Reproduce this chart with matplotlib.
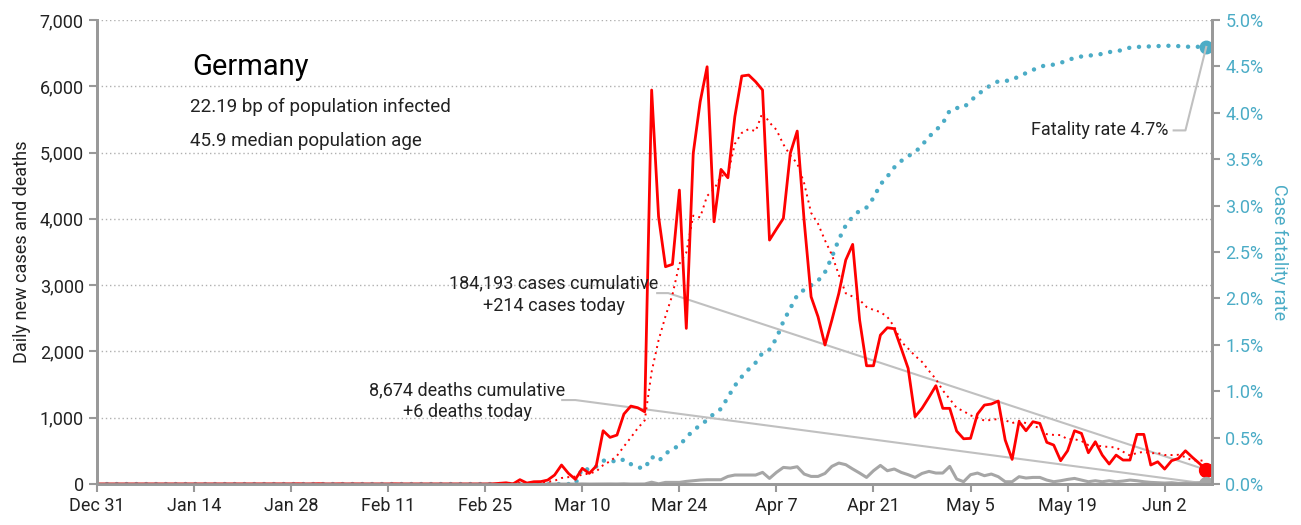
import numpy as np
import pandas as pd
import matplotlib
matplotlib.use('Agg')
import matplotlib.pyplot as plt
from matplotlib.ticker import FuncFormatter, MultipleLocator

plt.rcParams['font.family'] = ['Liberation Sans Narrow', 'Roboto', 'DejaVu Sans']

# dates shown on the chart
first_day = '2019-12-31'
last_day = '2020-06-08'

# daily new cases, from Jan 27 to Jun 8
cases_start = '2020-01-27'
new_cases = [
    0, 1, 3, 0, 1, 4, 0,                       # Jan 27 - Feb 2
    0, 2, 0, 1, 0, 0, 0,                       # Feb 3 - 9
    0, 0, 2, 0, 0, 0, 0,                       # Feb 10 - 16
    0, 0, 0, 0, 0, 0, 0,                       # Feb 17 - 23
    0, 0, 2, 10, 19, 2, 66,                    # Feb 24 - Mar 1
    15, 35, 37, 60, 136, 287, 161,             # Mar 2 - 8
    71, 237, 161, 271, 804, 704, 739,          # Mar 9 - 15
    1056, 1176, 1151, 1090, 5943, 4032, 3278,  # Mar 16 - 22
    3314, 4434, 2348, 4988, 5766, 6294, 3956,  # Mar 23 - 29
    4746, 4620, 5540, 6154, 6169, 6068, 5943,  # Mar 30 - Apr 5
    3680, 3846, 4007, 4988, 5324, 3969, 2825,  # Apr 6 - 12
    2524, 2097, 2474, 2876, 3379, 3615, 2474,  # Apr 13 - 19
    1784, 1784, 2247, 2358, 2343, 2047, 1745,  # Apr 20 - 26
    1015, 1142, 1308, 1483, 1142, 1142, 799,   # Apr 27 - May 3
    683, 689, 1056, 1191, 1207, 1252, 664,     # May 4 - 10
    372, 940, 804, 940, 915, 629, 588,         # May 11 - 17
    352, 502, 804, 764, 472, 638, 437,         # May 18 - 24
    302, 437, 362, 362, 749, 749, 287,         # May 25 - 31
    336, 226, 352, 387, 502, 403, 312,         # Jun 1 - 7
    214,                                       # Jun 8
]

# daily new deaths, from Mar 10 to Jun 8
deaths_start = '2020-03-10'
new_deaths = [
    2, 0, 1, 3, 2, 1,                          # Mar 10 - 15
    4, 0, 0, 1, 28, 3, 25,                     # Mar 16 - 22
    25, 25, 40, 50, 60, 65, 65,                # Mar 23 - 29
    65, 115, 136, 136, 136, 136, 176,          # Mar 30 - Apr 5
    85, 176, 251, 241, 261, 151, 115,          # Apr 6 - 12
    115, 160, 267, 317, 292, 227, 166,         # Apr 13 - 19
    100, 201, 281, 201, 227, 176, 141,         # Apr 20 - 26
    100, 160, 191, 166, 166, 266, 76,          # Apr 27 - May 3
    35, 141, 166, 126, 151, 111, 35,           # May 4 - 10
    35, 111, 91, 100, 100, 60, 35,             # May 11 - 17
    50, 70, 85, 60, 35, 50, 35,                # May 18 - 24
    50, 35, 45, 60, 50, 35, 25,                # May 25 - 31
    20, 15, 20, 10, 15, 10, 20,                # Jun 1 - 7
    6,                                         # Jun 8
]

dates = pd.date_range(first_day, last_day)
cases = pd.Series(new_cases, index=pd.date_range(cases_start, periods=len(new_cases)))
cases = cases.reindex(dates, fill_value=0)
deaths = pd.Series(new_deaths, index=pd.date_range(deaths_start, periods=len(new_deaths)))
deaths = deaths.reindex(dates, fill_value=0)

avg7 = cases.rolling(7).mean()
cum_cases = cases.cumsum()
cum_deaths = deaths.cumsum()
cfr = (cum_deaths / cum_cases.where(cum_cases > 0)).fillna(0)

red = '#ff0000'
blue = '#4bacc6'
grey = '#a6a6a6'
lead = '#c0c0c0'
spine = '#999999'
text_col = '#222222'

fig = plt.figure(figsize=(13.01, 5.25), dpi=100)
ax = fig.add_axes([0.0746, 0.078, 0.857, 0.884])
ax2 = ax.twinx()
ax.set_zorder(ax2.get_zorder() + 1)
ax.patch.set_visible(False)

# fatality rate on the right axis
ax2.plot(dates, cfr, color=blue, lw=3.2, ls=(0, (0.01, 2.2)), dash_capstyle='round')
ax2.plot(dates[-1], cfr.iloc[-1], 'o', color=blue, ms=9)
ax2.set_ylim(0, 0.05)
ax2.yaxis.set_major_locator(MultipleLocator(0.005))
ax2.yaxis.set_major_formatter(FuncFormatter(lambda v, p: f'{v * 100:.1f}%'))
ax2.set_ylabel('Case fatality rate', color=blue, fontsize=13, rotation=270, labelpad=18)
ax2.tick_params(axis='y', colors=spine, labelcolor=blue, labelsize=13, length=6, width=1.5)

# cases and deaths on the left axis
ax.plot(dates, deaths, color=grey, lw=2.2)
ax.plot(dates, avg7, color=red, lw=1.4, ls=(0, (1, 2.2)))
ax.plot(dates, cases, color=red, lw=2)
ax.plot(dates[-1], cases.iloc[-1], 'o', color=red, ms=10)
ax.plot(dates[-1], deaths.iloc[-1], 'o', color=grey, ms=10)

ax.set_ylim(0, 7000)
ax.yaxis.set_major_locator(MultipleLocator(1000))
ax.yaxis.set_major_formatter(FuncFormatter(lambda v, p: f'{v:,.0f}'))
ax.set_ylabel('Daily new cases and deaths', fontsize=13, color=text_col, labelpad=6)
ax.grid(axis='y', color='#b0b0b0', ls=(0, (1, 2)), lw=1)
ax.set_axisbelow(True)

ax.set_xlim(dates[0], dates[-1] + pd.Timedelta(hours=20))
xt = pd.date_range(first_day, last_day, freq='14D')
ax.set_xticks(xt)
ax.set_xticklabels([f'{d:%b} {d.day}' for d in xt])
ax.tick_params(axis='both', colors=spine, labelcolor=text_col, labelsize=13, length=6, width=1.5)

for a in (ax, ax2):
    a.spines['top'].set_visible(False)
    for s in ('left', 'right', 'bottom'):
        a.spines[s].set_color(spine)
        a.spines[s].set_linewidth(2)

# header text
ax.text(0.085, 0.881, 'Germany', transform=ax.transAxes, fontsize=21, color='black')
ax.text(0.083, 0.802, '22.19 bp of population infected', transform=ax.transAxes,
        fontsize=13.5, color=text_col)
ax.text(0.083, 0.729, '45.9 median population age', transform=ax.transAxes,
        fontsize=13.5, color=text_col)

# leader labels
t0 = dates[0]
day = pd.Timedelta(days=1)
ax.plot([t0 + 80.8 * day, t0 + 82.4 * day, dates[-1]], [2880, 2880, cases.iloc[-1]],
        color=lead, lw=1.5, zorder=1)
ax.text(t0 + 65.9 * day, 3032, f'{cum_cases.iloc[-1]:,} cases cumulative',
        ha='center', va='center', fontsize=13, color=text_col)
ax.text(t0 + 65.9 * day, 2685, f'+{cases.iloc[-1]:,} cases today',
        ha='center', va='center', fontsize=13, color=text_col)

ax.plot([t0 + 67.1 * day, t0 + 69 * day, dates[-1]], [1267, 1267, deaths.iloc[-1]],
        color=lead, lw=1.5, zorder=1)
ax.text(t0 + 53.4 * day, 1418, f'{cum_deaths.iloc[-1]:,} deaths cumulative',
        ha='center', va='center', fontsize=13, color=text_col)
ax.text(t0 + 53.4 * day, 1086, f'+{deaths.iloc[-1]:,} deaths today',
        ha='center', va='center', fontsize=13, color=text_col)

ax2.plot([t0 + 155.3 * day, t0 + 157 * day, dates[-1]], [0.0381, 0.0381, cfr.iloc[-1]],
         color=lead, lw=1.5)
ax2.text(t0 + 154.5 * day, 0.0381, f'Fatality rate {cfr.iloc[-1] * 100:.1f}%',
         ha='right', va='center', fontsize=13, color=text_col)

fig.savefig('out.png', dpi=100)
